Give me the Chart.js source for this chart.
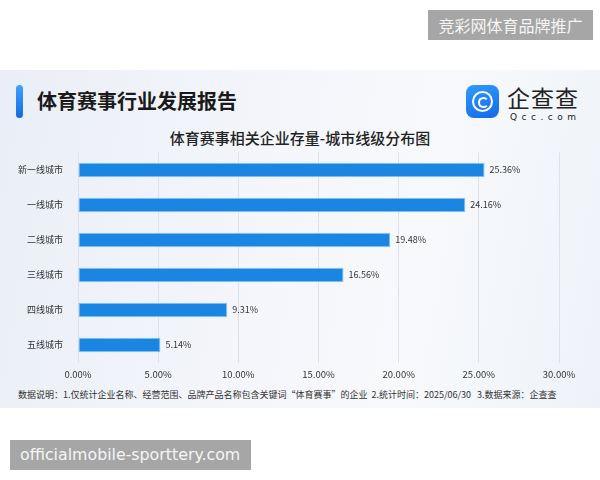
<!DOCTYPE html>
<html>
<head>
<meta charset="utf-8">
<script src="https://cdn.jsdelivr.net/npm/chart.js@4/dist/chart.umd.min.js"></script>
<style>
  body { margin: 0; width: 600px; height: 480px; background: #fff; position: relative; overflow: hidden;
         font-family: "Noto Sans CJK SC", "Noto Sans", sans-serif; }
  .panel { position: absolute; left: 0; top: 70px; width: 600px; height: 338px;
           background: linear-gradient(100deg, #eaeef6 0%, #f4f6fb 45%, #f7f9fc 70%, #eef2f8 100%); }
  .bar { position: absolute; left: 16px; top: 85px; width: 7px; height: 33px; border-radius: 4px;
         background: linear-gradient(180deg, #3ea2ff, #1769de); }
  .title { position: absolute; left: 37px; top: 88px; font-size: 20px; font-weight: 700; color: #1a1a1a; line-height: 26px; }
  .sub { position: absolute; left: 0; width: 600px; top: 127px; text-align: center; font-size: 15px; font-weight: 500; color: #222; line-height: 22px; }
  .logo { position: absolute; left: 466px; top: 85px; width: 33px; height: 33px; border-radius: 8px;
          background: linear-gradient(160deg, #2f9bff, #1668e8); }
  .logo .r1 { position: absolute; left: 6px; top: 6px; width: 17px; height: 17px; border: 2.5px solid #fff; border-radius: 50%; }
  .logo .r2 { position: absolute; left: 12px; top: 12px; width: 7px; height: 7px; border: 2px solid #fff; border-radius: 50%; border-right-color: transparent; }
  .brand { position: absolute; left: 507px; top: 84px; font-size: 23px; color: #222; line-height: 26px; letter-spacing: 1px; }
  .brand2 { position: absolute; left: 510px; top: 112px; font-size: 9px; color: #222; letter-spacing: 4.5px; font-family: "DejaVu Sans", sans-serif; }
  .note { position: absolute; left: 18px; top: 388px; font-size: 9px; color: #333; white-space: pre; line-height: 14px; }
  .wm { position: absolute; background: #a6a6a6; color: #f5f5f5; font-size: 16px; line-height: 30px; white-space: nowrap; }
  #c { position: absolute; left: 0; top: 145px; }
</style>
</head>
<body>
<div class="panel"></div>
<div class="bar"></div>
<div class="title">体育赛事行业发展报告</div>
<div class="logo"><div class="r1"></div><div class="r2"></div></div>
<div class="brand">企查查</div>
<div class="brand2">Qcc.com</div>
<div class="sub">体育赛事相关企业存量-城市线级分布图</div>
<canvas id="c" width="600" height="240"></canvas>
<div class="note">数据说明：1.仅统计企业名称、经营范围、品牌产品名称包含关键词“体育赛事”的企业  2.统计时间：2025/06/30   3.数据来源：企查查</div>
<div class="wm" style="left:428px;top:10px;width:165px;text-align:center;">竞彩网体育品牌推广</div>
<div class="wm" style="left:10px;top:440px;width:241px;padding-left:10px;box-sizing:border-box;font-family:'DejaVu Sans',sans-serif;font-size:15.8px;">officialmobile-sporttery.com</div>
<script>
const categories = ["新一线城市", "一线城市", "二线城市", "三线城市", "四线城市", "五线城市"];
const shares = [25.36, 24.16, 19.48, 16.56, 9.31, 5.14];
const xTicks = [0, 5, 10, 15, 20, 25, 30];

const valueLabels = {
  id: "valueLabels",
  afterDatasetsDraw(chart) {
    const ctx = chart.ctx;
    ctx.save();
    ctx.font = "9px 'Noto Sans CJK SC', sans-serif";
    ctx.fillStyle = "#333";
    ctx.textBaseline = "middle";
    chart.getDatasetMeta(0).data.forEach((el, i) => {
      ctx.fillText(shares[i].toFixed(2) + "%", el.x + 5, el.y);
    });
    ctx.restore();
  }
};

new Chart(document.getElementById("c"), {
  type: "bar",
  data: {
    labels: categories,
    datasets: [{
      data: shares,
      backgroundColor: "#1a86e2",
      borderColor: "#86c6f5",
      borderWidth: 1,
      borderSkipped: false,
      barPercentage: 0.42,
      categoryPercentage: 1
    }]
  },
  options: {
    indexAxis: "y",
    responsive: false,
    devicePixelRatio: 1,
    animation: false,
    layout: { padding: { top: 7.5, left: 0, right: 41, bottom: 0 } },
    plugins: { legend: { display: false }, tooltip: { enabled: false } },
    scales: {
      y: {
        grid: { display: false },
        border: { display: false },
        ticks: { color: "#333", font: { size: 9, family: "'Noto Sans CJK SC'" }, padding: 7 },
        afterFit: (s) => {
          s.width = 78;
          // tick padding otherwise pushes the plot area down
          s.paddingTop = 0;
          s.paddingBottom = 0;
        }
      },
      x: {
        min: 0,
        max: 30,
        afterBuildTicks: (s) => { s.ticks = xTicks.map((v) => ({ value: v })); },
        grid: { color: "#dde2ea", drawTicks: false },
        border: { display: false },
        ticks: {
          color: "#333",
          font: { size: 9.5, family: "'Noto Sans CJK SC'" },
          padding: 6,
          callback: (v) => v.toFixed(2) + "%"
        },
        afterFit: (s) => { s.height = 22.5; }
      }
    }
  },
  plugins: [valueLabels]
});
</script>
</body>
</html>
